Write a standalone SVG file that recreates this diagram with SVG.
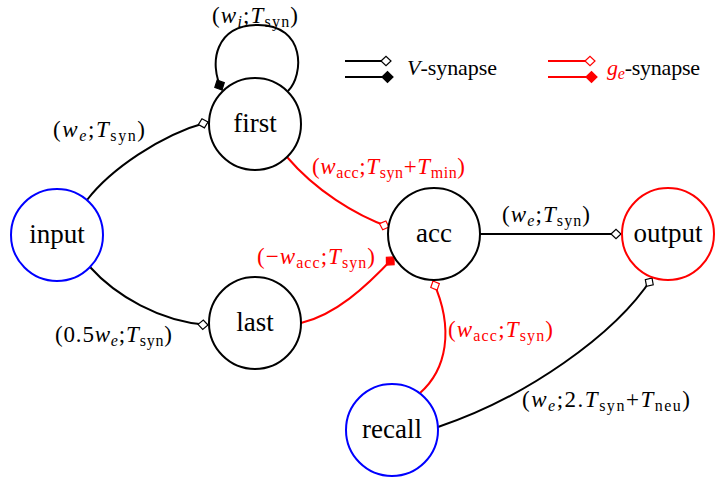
<svg xmlns="http://www.w3.org/2000/svg" width="717" height="478" viewBox="0 0 717 478">
  <style>
    .bg { fill: #ffffff; }
    .node circle { fill: #ffffff; stroke-width: 2; }
    .node text { font-family: 'Liberation Serif', 'Times New Roman', serif; font-size: 27px; text-anchor: middle; fill: #000; }
    .plain circle { stroke: #000; }
    .src circle { stroke: #0000ff; }
    .out circle { stroke: #ff0000; }
    .edge { fill: none; stroke-width: 2; }
    .v { stroke: #000; }
    .g { stroke: #ff0000; }
    .lbl { font-family: 'Liberation Serif', 'Times New Roman', serif; font-size: 23px; fill: #000; }
    .key { font-size: 22px; }
    .red { fill: #ff0000; }
    .it { font-style: italic; }
    .sub { font-size: 16px; }
  </style>
  <defs>
    <!-- diamond tips: open = excitatory, filled = inhibitory; tip sits on the path end -->
    <marker id="vOpen" markerUnits="userSpaceOnUse" viewBox="-2 -7 14 14" refX="10" refY="0" markerWidth="14" markerHeight="14" orient="auto">
      <path d="M0,0 L5,-4.7 L10,0 L5,4.7 Z" fill="#fff" stroke="#000" stroke-width="1.2"/>
    </marker>
    <marker id="vFill" markerUnits="userSpaceOnUse" viewBox="-2 -7 15 14" refX="11" refY="0" markerWidth="15" markerHeight="14" orient="auto">
      <path d="M0,0 L5.5,-5.3 L11,0 L5.5,5.3 Z" fill="#000" stroke="#000" stroke-width="1.2"/>
    </marker>
    <marker id="gOpen" markerUnits="userSpaceOnUse" viewBox="-2 -7 14 14" refX="10" refY="0" markerWidth="14" markerHeight="14" orient="auto">
      <path d="M0,0 L5,-4.7 L10,0 L5,4.7 Z" fill="#fff" stroke="#ff0000" stroke-width="1.2"/>
    </marker>
    <marker id="gFill" markerUnits="userSpaceOnUse" viewBox="-2 -7 15 14" refX="11" refY="0" markerWidth="15" markerHeight="14" orient="auto">
      <path d="M0,0 L5.5,-5.3 L11,0 L5.5,5.3 Z" fill="#ff0000" stroke="#ff0000" stroke-width="1.2"/>
    </marker>
  </defs>

  <rect class="bg" x="0" y="0" width="717" height="478"/>

  <!-- connectors -->
  <g id="connectors">
    <path class="edge v" d="M288,91 C304,75 306,25 258,25 C216,25 208,62 222,90" marker-end="url(#vFill)"/>
    <path class="edge v" d="M87,200 C110,170 160,135 208,122" marker-end="url(#vOpen)"/>
    <path class="edge v" d="M90,267 C115,295 160,322 208,325" marker-end="url(#vOpen)"/>
    <path class="edge g" d="M287,157 C315,190 355,215 389,227" marker-end="url(#gOpen)"/>
    <path class="edge g" d="M301,323 C335,315 365,288 394,257" marker-end="url(#gFill)"/>
    <path class="edge v" d="M480,234 L621,234" marker-end="url(#vOpen)"/>
    <path class="edge g" d="M420,393 C446,370 455,330 433,281" marker-end="url(#gOpen)"/>
    <path class="edge v" d="M438,427 C525,398 615,335 652,278" marker-end="url(#vOpen)"/>
  </g>

  <!-- connector labels -->
  <g id="labels">
    <text class="lbl" x="212" y="23" textLength="86" lengthAdjust="spacing">(<tspan class="it">w</tspan><tspan class="it sub" dy="4">i</tspan><tspan dy="-4">;</tspan><tspan class="it">T</tspan><tspan class="sub" dy="4">syn</tspan><tspan dy="-4">)</tspan></text>
    <text class="lbl" x="53" y="137" textLength="92" lengthAdjust="spacing">(<tspan class="it">w</tspan><tspan class="it sub" dy="4">e</tspan><tspan dy="-4">;</tspan><tspan class="it">T</tspan><tspan class="sub" dy="4">syn</tspan><tspan dy="-4">)</tspan></text>
    <text class="lbl" x="55" y="342" textLength="117" lengthAdjust="spacing">(0.5<tspan class="it">w</tspan><tspan class="it sub" dy="4">e</tspan><tspan dy="-4">;</tspan><tspan class="it">T</tspan><tspan class="sub" dy="4">syn</tspan><tspan dy="-4">)</tspan></text>
    <text class="lbl red" x="312" y="174" textLength="153" lengthAdjust="spacing">(<tspan class="it">w</tspan><tspan class="sub" dy="4">acc</tspan><tspan dy="-4">;</tspan><tspan class="it">T</tspan><tspan class="sub" dy="4">syn</tspan><tspan dy="-4">+</tspan><tspan class="it">T</tspan><tspan class="sub" dy="4">min</tspan><tspan dy="-4">)</tspan></text>
    <text class="lbl red" x="257" y="264" textLength="118" lengthAdjust="spacing">(−<tspan class="it">w</tspan><tspan class="sub" dy="4">acc</tspan><tspan dy="-4">;</tspan><tspan class="it">T</tspan><tspan class="sub" dy="4">syn</tspan><tspan dy="-4">)</tspan></text>
    <text class="lbl" x="502" y="222" textLength="88" lengthAdjust="spacing">(<tspan class="it">w</tspan><tspan class="it sub" dy="4">e</tspan><tspan dy="-4">;</tspan><tspan class="it">T</tspan><tspan class="sub" dy="4">syn</tspan><tspan dy="-4">)</tspan></text>
    <text class="lbl red" x="448" y="337" textLength="105" lengthAdjust="spacing">(<tspan class="it">w</tspan><tspan class="sub" dy="4">acc</tspan><tspan dy="-4">;</tspan><tspan class="it">T</tspan><tspan class="sub" dy="4">syn</tspan><tspan dy="-4">)</tspan></text>
    <text class="lbl" x="522" y="407" textLength="168" lengthAdjust="spacing">(<tspan class="it">w</tspan><tspan class="it sub" dy="4">e</tspan><tspan dy="-4">;2.</tspan><tspan class="it">T</tspan><tspan class="sub" dy="4">syn</tspan><tspan dy="-4">+</tspan><tspan class="it">T</tspan><tspan class="sub" dy="4">neu</tspan><tspan dy="-4">)</tspan></text>
  </g>

  <!-- legend -->
  <g id="legend">
    <path class="edge v" d="M345,61 L391,61" marker-end="url(#vOpen)"/>
    <path class="edge v" d="M345,77 L393,77" marker-end="url(#vFill)"/>
    <text class="lbl key" x="407" y="75" textLength="90" lengthAdjust="spacing"><tspan class="it">V</tspan>-synapse</text>
    <path class="edge g" d="M548,61 L595,61" marker-end="url(#gOpen)"/>
    <path class="edge g" d="M548,77 L597,77" marker-end="url(#gFill)"/>
    <text class="lbl key" x="607" y="75" textLength="93" lengthAdjust="spacing"><tspan class="it red">g</tspan><tspan class="it sub red" dy="4">e</tspan><tspan dy="-4">-synapse</tspan></text>
  </g>

  <!-- nodes -->
  <g id="input" class="node src">
    <circle cx="57" cy="235" r="46"/>
    <text x="57" y="243">input</text>
  </g>
  <g id="first" class="node plain">
    <circle cx="255" cy="124" r="46"/>
    <text x="255" y="132">first</text>
  </g>
  <g id="acc" class="node plain">
    <circle cx="434" cy="234" r="46"/>
    <text x="434" y="242">acc</text>
  </g>
  <g id="last" class="node plain">
    <circle cx="255" cy="323" r="46"/>
    <text x="255" y="331">last</text>
  </g>
  <g id="output" class="node out">
    <circle cx="668" cy="234" r="46"/>
    <text x="668" y="242">output</text>
  </g>
  <g id="recall" class="node src">
    <circle cx="392" cy="430" r="46"/>
    <text x="392" y="438">recall</text>
  </g>
</svg>
